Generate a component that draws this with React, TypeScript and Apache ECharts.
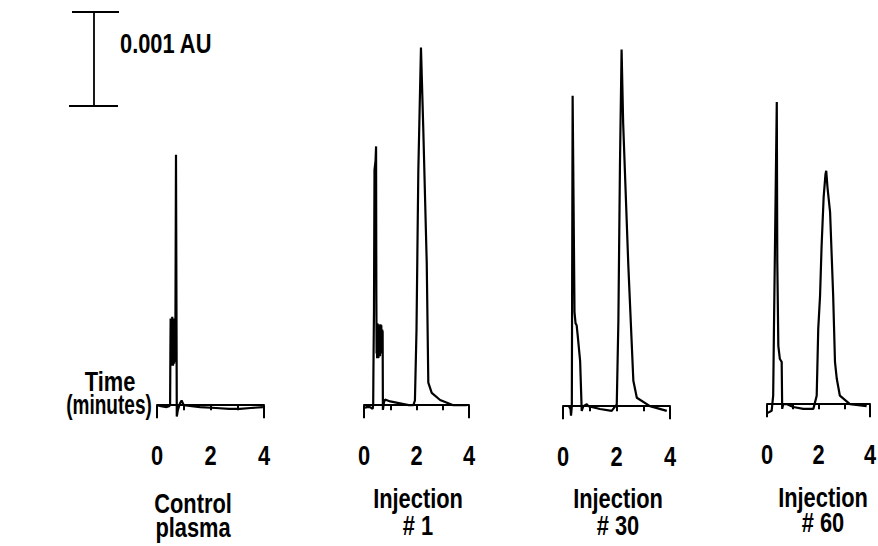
import React, { useEffect, useRef } from "react";
import * as echarts from "echarts";

// Time (minutes) / absorbance (mAU, 1 mAU = 0.001 AU)
const controlPlasma: number[][] = [
  [0, 0], [0.15, -0.01], [0.36, -0.02], [0.45, -0.01], [0.49, 0], [0.5, 0.55],
  [0.51, 0.92], [0.52, 0.45], [0.53, 0.9], [0.54, 0.42], [0.55, 0.88], [0.56, 0.45],
  [0.57, 0.94], [0.58, 0.48], [0.59, 0.86], [0.6, 0.42], [0.61, 0.92], [0.62, 0.5],
  [0.63, 0.9], [0.64, 0.44], [0.65, 0.88], [0.66, 0.46], [0.67, 0.92], [0.68, 0.5],
  [0.69, 0.95], [0.71, 2.66], [0.74, -0.12], [0.78, -0.05], [0.86, 0.02], [0.92, 0.05],
  [1.0, 0.0], [1.3, -0.01], [1.61, -0.02], [2.2, -0.03], [2.7, -0.04], [3.1, -0.04],
  [3.5, -0.03], [3.96, -0.02],
];
const injection1: number[][] = [
  [0.04, -0.03], [0.1, -0.02], [0.23, -0.02], [0.33, -0.04], [0.35, 0.0], [0.36, 0.4],
  [0.38, 1.0], [0.4, 2.5], [0.44, 2.6], [0.46, 2.75], [0.47, 1.2], [0.48, 0.55],
  [0.49, 0.85], [0.5, 0.5], [0.51, 0.87], [0.52, 0.52], [0.54, 0.86], [0.55, 0.5],
  [0.57, 0.84], [0.58, 0.55], [0.6, 0.85], [0.61, 0.52], [0.63, 0.86], [0.64, 0.55],
  [0.66, 0.85], [0.67, 0.55], [0.69, 0.8], [0.71, 0.78],
  [0.72, -0.05], [0.76, 0.03], [0.8, 0.06], [1.0, 0.04], [1.37, 0.02], [1.7, 0.0],
  [1.88, 0.0], [1.94, 0.05], [2.0, 0.8], [2.07, 2.5], [2.17, 3.8], [2.26, 2.92],
  [2.39, 1.51], [2.45, 0.24], [2.58, 0.13], [2.9, 0.055], [3.4, 0], [3.91, 0],
];
const injection30: number[][] = [
  [0.22, 0.0], [0.28, -0.03], [0.3, -0.1], [0.33, 0.0], [0.36, 3.3], [0.43, 1.0],
  [0.47, 0.88], [0.51, 0.86], [0.55, 0.75], [0.64, 0.48], [0.7, -0.05], [0.76, 0.0],
  [0.89, 0.02], [0.95, 0.0], [1.38, -0.03], [1.82, -0.05], [2.01, 0.02], [2.07, 0.9],
  [2.13, 2.58], [2.19, 3.79], [2.25, 3.0], [2.44, 1.51], [2.63, 0.27], [2.76, 0.09],
  [3.25, 0.0], [3.88, -0.05],
];
const injection60: number[][] = [
  [0.0, -0.09], [0.05, -0.09], [0.18, -0.07], [0.24, 0.09], [0.27, 0.8], [0.31, 1.68],
  [0.38, 3.21], [0.4, 1.51], [0.44, 0.62], [0.5, 0.48], [0.57, 0.45], [0.59, -0.05],
  [0.63, 0.0], [0.78, 0.0], [1.02, -0.03], [1.41, -0.05], [1.8, -0.05], [1.93, 0.09],
  [1.99, 0.8], [2.06, 1.15], [2.12, 1.68], [2.2, 2.2], [2.27, 2.44], [2.3, 2.48],
  [2.35, 2.3], [2.45, 2.04], [2.57, 1.15], [2.64, 0.45], [2.71, 0.27], [2.83, 0.09],
  [3.22, 0.0], [3.87, -0.02],
];
const traces = [controlPlasma, injection1, injection30, injection60];

const xTickLabels = [0, 2, 4];
const panelTitles: string[][] = [
  ["Control", "plasma"],
  ["Injection", "# 1"],
  ["Injection", "# 30"],
  ["Injection", "# 60"],
];
const scaleBarLabel = "0.001 AU";
const scaleBarMAU = [0, 1];
const timeLabel = ["Time", "(minutes)"];

// layout
const panelBoxes = [
  { left: 157, width: 107, bottom: 424 },
  { left: 364, width: 105, bottom: 424 },
  { left: 563, width: 107, bottom: 425 },
  { left: 767, width: 103, bottom: 423 },
];
const titlePos = [
  { x: 193, y1: 503, y2: 527 },
  { x: 418, y1: 498, y2: 525 },
  { x: 618, y1: 498, y2: 525 },
  { x: 823, y1: 497, y2: 522 },
];
const PX_PER_MAU = 94.1;
const Y_MIN = -0.2;
const Y_MAX = 4.2;
const FONT = '"Liberation Sans", Arial, sans-serif';
const SX = 0.78;
const FS = 28;
const TICK_LABEL_GAP = 31;

export default function App() {
  const ref = useRef<HTMLDivElement>(null);
  useEffect(() => {
    if (!ref.current) return;
    const chart = echarts.init(ref.current, undefined, { renderer: "svg" });
    const black = "#000";
    const grids: any[] = panelBoxes.map((p) => {
      const h = (Y_MAX - Y_MIN) * PX_PER_MAU;
      return { left: p.left, width: p.width, top: p.bottom - h, height: h };
    });
    grids.push({ left: 69, width: 50, top: 12, height: 94 });

    const xAxes: any[] = panelBoxes.map((_, i) => ({
      gridIndex: i,
      type: "value",
      min: 0,
      max: 4,
      interval: 4,
      axisLine: { show: true, lineStyle: { color: black, width: 2 } },
      axisTick: { show: true, length: 13, lineStyle: { color: black, width: 2 } },
      minorTick: { show: true, splitNumber: 4, length: 5, lineStyle: { color: black, width: 2 } },
      splitLine: { show: false },
      minorSplitLine: { show: false },
      axisLabel: { show: false },
    }));
    xAxes.push({ gridIndex: 4, type: "value", min: 0, max: 1, show: false });

    const yAxes: any[] = panelBoxes.map((_, i) => ({
      gridIndex: i,
      type: "value",
      min: Y_MIN,
      max: Y_MAX,
      show: false,
    }));
    yAxes.push({ gridIndex: 4, type: "value", min: scaleBarMAU[0], max: scaleBarMAU[1], show: false });

    const series: any[] = traces.map((d, i) => ({
      type: "line",
      xAxisIndex: i,
      yAxisIndex: i,
      data: d,
      symbol: "none",
      silent: true,
      lineStyle: { color: black, width: 2.2 },
    }));
    const bar = (data: number[][]) => ({
      type: "line",
      xAxisIndex: 4,
      yAxisIndex: 4,
      data,
      symbol: "none",
      silent: true,
      clip: false,
      lineStyle: { color: black, width: 1.8 },
    });
    series.push(bar([[0.5, scaleBarMAU[0]], [0.5, scaleBarMAU[1]]]));
    series.push(bar([[0.06, scaleBarMAU[1]], [1, scaleBarMAU[1]]]));
    series.push(bar([[0, scaleBarMAU[0]], [0.98, scaleBarMAU[0]]]));

    chart.setOption({
      animation: false,
      backgroundColor: "#fff",
      grid: grids,
      xAxis: xAxes,
      yAxis: yAxes,
      series,
    });

    const txt = (text: string, x: number, y: number, align = "center", sx = SX) => ({
      type: "text",
      x,
      y,
      scaleX: sx,
      silent: true,
      style: {
        text,
        fill: black,
        font: `bold ${FS}px ${FONT}`,
        align,
        verticalAlign: "middle",
      },
    });
    const graphics: any[] = [];
    // tick labels placed through each panel's own x scale
    panelBoxes.forEach((_, i) => {
      xTickLabels.forEach((v) => {
        const pt = chart.convertToPixel({ gridIndex: i } as any, [v, Y_MIN]) as number[];
        graphics.push(txt(String(v), pt[0], pt[1] + TICK_LABEL_GAP));
      });
    });
    panelTitles.forEach((t, i) => {
      graphics.push(txt(t[0], titlePos[i].x, titlePos[i].y1));
      graphics.push(txt(t[1], titlePos[i].x, titlePos[i].y2));
    });
    graphics.push(txt(scaleBarLabel, 120, 43, "left"));
    graphics.push(txt(timeLabel[0], 110, 381));
    graphics.push(txt(timeLabel[1], 109, 404, "center", 0.68));
    chart.setOption({ graphic: graphics });

    return () => chart.dispose();
  }, []);
  return (
    <div
      ref={ref}
      style={{ position: "fixed", left: 0, top: 0, width: 878, height: 546, background: "#fff" }}
    />
  );
}
